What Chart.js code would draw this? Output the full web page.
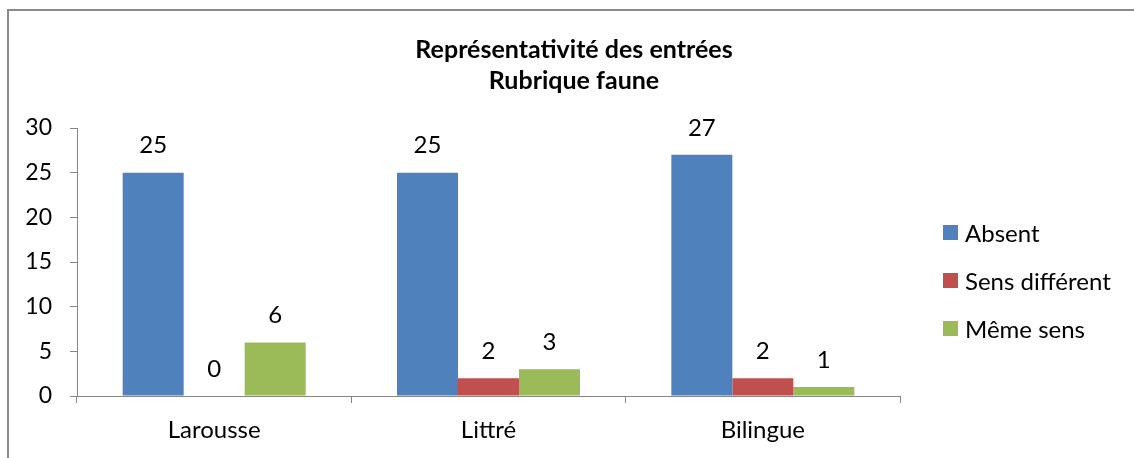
<!DOCTYPE html>
<html>
<head>
<meta charset="utf-8">
<title>Représentativité des entrées</title>
<script src="https://cdn.jsdelivr.net/npm/chart.js@4"></script>
<style>
  html, body { margin: 0; padding: 0; background: #fff; }
  body { width: 1134px; height: 458px; position: relative; overflow: hidden; font-family: Lato, "Open Sans", sans-serif; }
  .frame { position: absolute; left: 7px; top: 9px; width: 1200px; height: 500px;
           border-left: 2px solid #8a8a8a; border-top: 2px solid #8a8a8a; }
  #wrap { position: absolute; left: 0; top: 0; width: 1134px; height: 458px; }
  #title { position: absolute; left: 374px; width: 400px; top: 33px; text-align: center;
           font-weight: bold; font-size: 25px; line-height: 31px; color: #000; }
  #legend { position: absolute; left: 943px; top: 208px; margin: 0; padding: 0; list-style: none; }
  #legend li { display: flex; align-items: center; height: 48px; font-size: 24px; color: #000; white-space: nowrap; }
  #legend span.box { width: 15px; height: 15px; margin-right: 7px; display: inline-block; }
</style>
</head>
<body>
<div class="frame"></div>
<div id="wrap"><canvas id="chart" width="1134" height="458"></canvas></div>
<div id="title"></div>
<ul id="legend"></ul>
<script>
// data
const categories = ['Larousse', 'Littré', 'Bilingue'];
const absent = [25, 25, 27];
const sensDifferent = [0, 2, 2];
const memeSens = [6, 3, 1];
const seriesNames = ['Absent', 'Sens différent', 'Même sens'];
const seriesColors = ['#4F81BD', '#C0504D', '#9BBB59'];
const titleLines = ['Représentativité des entrées', 'Rubrique faune'];

const FONT = 'Lato, "Open Sans", sans-serif';
const axisColor = '#868686';

// draws the value above each bar
const valueLabels = {
  id: 'valueLabels',
  afterDatasetsDraw(chart) {
    const ctx = chart.ctx;
    ctx.save();
    ctx.font = '24px ' + FONT;
    ctx.fillStyle = '#000';
    ctx.textAlign = 'center';
    ctx.textBaseline = 'middle';
    chart.data.datasets.forEach((ds, i) => {
      chart.getDatasetMeta(i).data.forEach((el, j) => {
        ctx.fillText(String(ds.data[j]), el.x, el.y - 27);
      });
    });
    ctx.restore();
  }
};

const chart = new Chart(document.getElementById('chart'), {
  type: 'bar',
  data: {
    labels: categories,
    datasets: [absent, sensDifferent, memeSens].map((d, i) => ({
      label: seriesNames[i],
      data: d,
      backgroundColor: seriesColors[i],
      borderWidth: 0,
      categoryPercentage: 0.667,
      barPercentage: 1
    }))
  },
  options: {
    responsive: false,
    animation: false,
    layout: { padding: { left: 0, right: 234, top: 128, bottom: 0 } },
    plugins: {
      legend: { display: false },
      tooltip: { enabled: false },
      title: { display: false }
    },
    scales: {
      x: {
        grid: { drawOnChartArea: false, drawTicks: true, tickLength: 7, color: axisColor },
        border: { color: axisColor, width: 1 },
        ticks: { color: '#000', font: { family: FONT, size: 24 }, padding: 13, maxRotation: 0 },
        afterFit(scale) { scale.height = 62; }
      },
      y: {
        min: 0, max: 30,
        grid: { drawOnChartArea: false, drawTicks: true, tickLength: 7, color: axisColor },
        border: { color: axisColor, width: 1 },
        ticks: { stepSize: 5, color: '#000', font: { family: FONT, size: 23 }, padding: 18 },
        afterFit(scale) { scale.width = 77; }
      }
    }
  },
  plugins: [valueLabels]
});

document.getElementById('title').innerHTML = titleLines.join('<br>');

// legend on the right
const ul = document.getElementById('legend');
seriesNames.forEach((n, i) => {
  const li = document.createElement('li');
  li.innerHTML = `<span class="box" style="background:${seriesColors[i]}"></span>${n}`;
  ul.appendChild(li);
});
</script>
</body>
</html>
